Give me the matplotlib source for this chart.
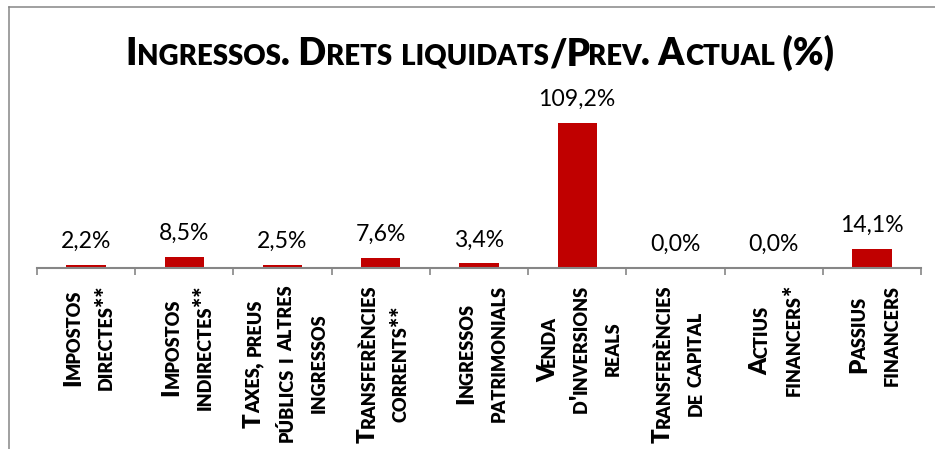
import matplotlib
matplotlib.use("Agg")
import matplotlib.pyplot as plt
from matplotlib.font_manager import FontProperties
from matplotlib.lines import Line2D
import numpy as np

# chart data
title = "Ingressos. Drets liquidats/Prev. Actual (%)"
label_lines = [
    ["Impostos", "directes**"],
    ["Impostos", "indirectes**"],
    ["Taxes, preus", "públics i altres", "ingressos"],
    ["Transferències", "corrents**"],
    ["Ingressos", "patrimonials"],
    ["Venda", "d'inversions", "reals"],
    ["Transferències", "de capital"],
    ["Actius", "financers*"],
    ["Passius", "financers"],
]
values = [2.2, 8.5, 2.5, 7.6, 3.4, 109.2, 0.0, 0.0, 14.1]

W, H = 935, 449
RED = "#C00000"
GRAY = "#868686"
FONT = "Lato"
WEIGHT = "heavy"
SC_RATIO = 0.75
# tighten big capital -> small caps joins (lato kerning is not applied here)
KERN = {"T": -0.02, "P": -0.06, "V": -0.06}

fig = plt.figure(figsize=(W / 100, H / 100), dpi=100)
renderer = fig.canvas.get_renderer()


def runs(s):
    # split text into small-caps runs: lowercase -> smaller uppercase
    out = []
    for ch in s:
        small = ch.islower()
        c = ch.upper() if small else ch
        if out and out[-1][1] == small:
            out[-1][0] += c
        else:
            out.append([c, small])
    return out


def adv(text, fp):
    w1 = renderer.get_text_width_height_descent("|" + text + "|", fp, ismath=False)[0]
    w0 = renderer.get_text_width_height_descent("||", fp, ismath=False)[0]
    return w1 - w0


def props(size, small):
    return FontProperties(family=FONT, weight=WEIGHT,
                          size=size * SC_RATIO if small else size)


def layout(s, size):
    # returns list of (text, fontprops, offset) and total length
    items = []
    pos = 0
    prev = None
    for t, sm in runs(s):
        fp = props(size, sm)
        if prev is not None and sm and prev[-1] in KERN:
            pos += KERN[prev[-1]] * size * 100 / 72
        items.append((t, fp, pos))
        pos += adv(t, fp)
        prev = t
    return items, pos


def draw_sc(items, x, y, rot=0):
    # x, y: start of baseline in pixels, origin top-left
    for t, fp, off in items:
        if rot == 0:
            fig.text((x + off) / W, 1 - y / H, t, fontproperties=fp,
                     ha="left", va="baseline", color="black")
        else:
            fig.text(x / W, 1 - (y - off) / H, t, fontproperties=fp, rotation=90,
                     rotation_mode="anchor", ha="left", va="baseline", color="black")


# outer chart border (runs off right and bottom edges)
fig.add_artist(Line2D([9 / W, 9 / W], [0, 1 - 7 / H], color=GRAY, lw=1.1))
fig.add_artist(Line2D([9 / W, 1], [1 - 7 / H, 1 - 7 / H], color=GRAY, lw=1.1))

# plot area
x0, x1, base_y, top_y = 37, 921, 268, 100
px_per_unit = 145.3 / 109.2
ax = fig.add_axes([x0 / W, 1 - base_y / H, (x1 - x0) / W, (base_y - top_y) / H])
ax.set_facecolor("none")
n = len(values)
x = np.arange(n)
ax.bar(x, values, width=0.4, color=RED)
ax.set_xlim(-0.5, n - 0.5)
ax.set_ylim(0, (base_y - top_y) / px_per_unit)
for sp in ["left", "right", "top"]:
    ax.spines[sp].set_visible(False)
ax.spines["bottom"].set_color(GRAY)
ax.spines["bottom"].set_linewidth(1.5)
ax.set_yticks([])
ax.set_xticks(np.arange(n + 1) - 0.5)
ax.set_xticklabels([])
ax.tick_params(axis="x", direction="out", length=5, width=1.2, color=GRAY)

for i, v in enumerate(values):
    ax.annotate(f"{v:.1f}".replace(".", ",") + "%", (i, v), xytext=(0, 12.2),
                textcoords="offset points", ha="center", va="baseline",
                fontsize=16.6, family=FONT, color="black")

# title
items, t_len = layout(title, 26.5)
draw_sc(items, 480 - t_len / 2, 65)

# category labels, rotated, small caps
l_size = 17.4
cat_w = (x1 - x0) / n
for i, lines in enumerate(label_lines):
    cx = x0 + (i + 0.5) * cat_w
    laid = [layout(s, l_size) for s in lines]
    lmax = max(L for _, L in laid)
    c = 285 + lmax / 2
    for j, (items, L) in enumerate(laid):
        bx = cx + (j - (len(lines) - 1) / 2) * 32 + 10
        draw_sc(items, bx, c + L / 2, rot=90)

fig.savefig("out.png", dpi=100)
